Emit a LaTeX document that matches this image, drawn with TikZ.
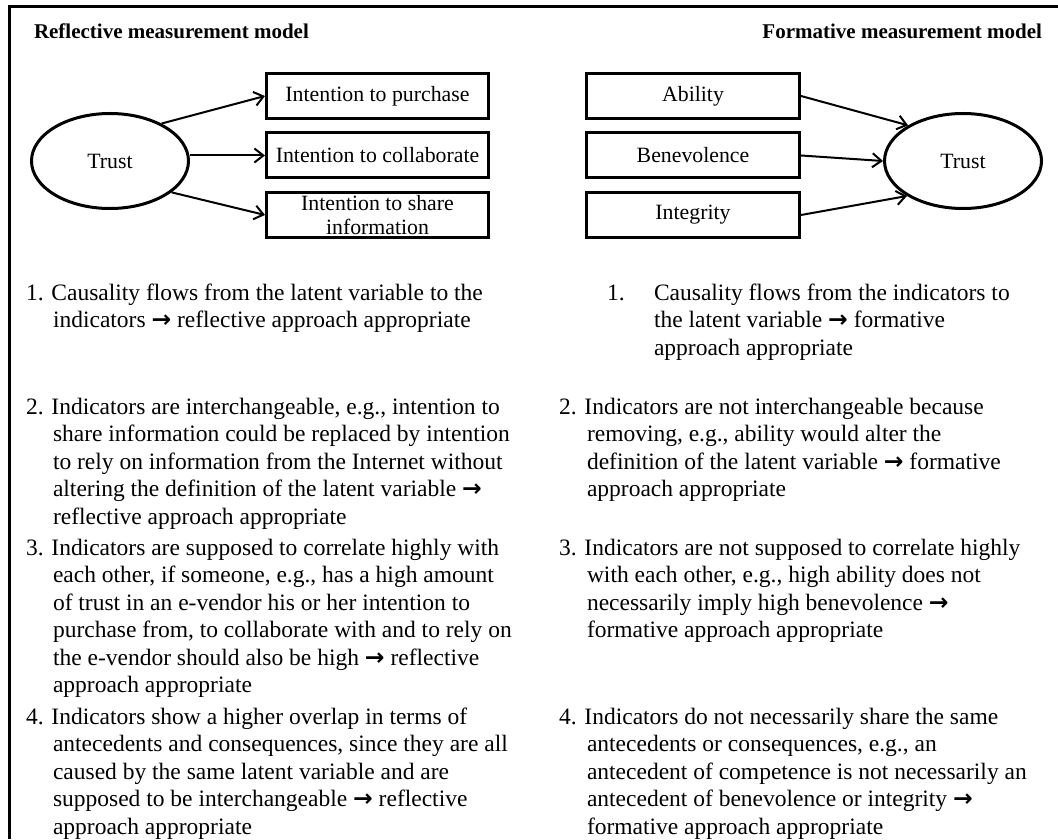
\documentclass[tikz,border=0pt]{standalone}
\usepackage{fontspec}
\setmainfont{Liberation Serif}
\newfontfamily\arrowfont{DejaVu Sans}
\usetikzlibrary{arrows.meta}
\usetikzlibrary{calc,shapes,shapes.geometric,positioning}
\newcommand{\contIndent}[1]{\hspace*{#1}}
\newcommand{\impliesArrow}{{\arrowfont\bfseries →}}

\begin{document}
\begin{tikzpicture}[x=0.5pt,y=-0.5pt,line width=1pt,node distance=5.75pt,
          indicator/.style={
            draw,
            rectangle,
            line width=1.5pt,
            align=center,
            minimum width=111pt,
            minimum height=22.5pt,
            inner xsep=2pt,
            inner ysep=0.5pt,
            font=\fontsize{10.9}{12}\selectfont},
          latent/.style={
            draw,
            ellipse,
            line width=1.5pt,
            minimum width=78.5pt,
            minimum height=47.5pt,
            inner sep=0pt,
            font=\fontsize{10.9}{12}\selectfont},
          header/.style={
            inner sep=0pt,
            font=\fontsize{10.5}{12}\selectfont\bfseries},
          itemText/.style={
            inner sep=0pt,
            anchor=base west,
            font=\fontsize{11.75}{13.75}\selectfont},
          causal/.style={-{Straight Barb[length=4.5pt,width=7pt]}}
          ]

          \useasboundingbox (0,0) rectangle (1058,839);
          \draw[line width=1.5pt] (9,839) -- (9,6.5) -- (1058,6.5);

          \node[header, anchor=base west] (reflTitle) at (33,39) {Reflective measurement model};
          \node[header, anchor=base east] (formTitle) at (1043,39) {Formative measurement model};

          \node[latent] (trustRefl) at (110,161) {Trust};
          \node[indicator, anchor=north west] (reflBox1) at (265,72) {Intention to purchase};
          \node[indicator, below=of reflBox1] (reflBox2) {Intention to collaborate};
          \node[indicator, below=of reflBox2] (reflBox3) {Intention to share\\information};

          \node[latent] (trustForm) at (963,161) {Trust};
          \node[indicator, minimum width=106.5pt, anchor=north west] (formBox1) at (585,72) {Ability};
          \node[indicator, minimum width=106.5pt, below=of formBox1] (formBox2) {Benevolence};
          \node[indicator, minimum width=106.5pt, below=of formBox2] (formBox3) {Integrity};

          \draw[causal] (trustRefl.36) -- (reflBox1.west);
          \draw[causal] (trustRefl.east |- reflBox2.west) -- (reflBox2.west);
          \draw[causal] (trustRefl.-27) -- (reflBox3.west);
          \draw[causal] (formBox1.east) -- (trustForm.147);
          \draw[causal] (formBox2.east) -- (trustForm.west);
          \draw[causal] (formBox3.east) -- (trustForm.212);

          \node[itemText] (reflItem1) at (25,300) {\begin{tabular}[t]{@{}l@{}}
            1. Causality flows from the latent variable to the\\
            \contIndent{13.5pt}indicators \impliesArrow{} reflective approach appropriate
          \end{tabular}};
          \node[itemText] (reflItem2) at (25,414) {\begin{tabular}[t]{@{}l@{}}
            2. Indicators are interchangeable, e.g., intention to\\
            \contIndent{13.5pt}share information could be replaced by intention\\
            \contIndent{13.5pt}to rely on information from the Internet without\\
            \contIndent{13.5pt}altering the definition of the latent variable \impliesArrow\\
            \contIndent{13.5pt}reflective approach appropriate
          \end{tabular}};
          \node[itemText] (reflItem3) at (25,555) {\begin{tabular}[t]{@{}l@{}}
            3. Indicators are supposed to correlate highly with\\
            \contIndent{13.5pt}each other, if someone, e.g., has a high amount\\
            \contIndent{13.5pt}of trust in an e-vendor his or her intention to\\
            \contIndent{13.5pt}purchase from, to collaborate with and to rely on\\
            \contIndent{13.5pt}the e-vendor should also be high \impliesArrow{} reflective\\
            \contIndent{13.5pt}approach appropriate
          \end{tabular}};
          \node[itemText] (reflItem4) at (25,724) {\begin{tabular}[t]{@{}l@{}}
            4. Indicators show a higher overlap in terms of\\
            \contIndent{13.5pt}antecedents and consequences, since they are all\\
            \contIndent{13.5pt}caused by the same latent variable and are\\
            \contIndent{13.5pt}supposed to be interchangeable \impliesArrow{} reflective\\
            \contIndent{13.5pt}approach appropriate
          \end{tabular}};

          \node[itemText] (formItem1) at (606,300) {\begin{tabular}[t]{@{}l@{}}
            \makebox[23.5pt][l]{1.}Causality flows from the indicators to\\
            \contIndent{23.5pt}the latent variable \impliesArrow{} formative\\
            \contIndent{23.5pt}approach appropriate
          \end{tabular}};
          \node[itemText] (formItem2) at (558,414) {\begin{tabular}[t]{@{}l@{}}
            2. Indicators are not interchangeable because\\
            \contIndent{14pt}removing, e.g., ability would alter the\\
            \contIndent{14pt}definition of the latent variable \impliesArrow{} formative\\
            \contIndent{14pt}approach appropriate
          \end{tabular}};
          \node[itemText] (formItem3) at (558,555) {\begin{tabular}[t]{@{}l@{}}
            3. Indicators are not supposed to correlate highly\\
            \contIndent{14pt}with each other, e.g., high ability does not\\
            \contIndent{14pt}necessarily imply high benevolence \impliesArrow\\
            \contIndent{14pt}formative approach appropriate
          \end{tabular}};
          \node[itemText] (formItem4) at (558,724) {\begin{tabular}[t]{@{}l@{}}
            4. Indicators do not necessarily share the same\\
            \contIndent{14pt}antecedents or consequences, e.g., an\\
            \contIndent{14pt}antecedent of competence is not necessarily an\\
            \contIndent{14pt}antecedent of benevolence or integrity \impliesArrow\\
            \contIndent{14pt}formative approach appropriate
          \end{tabular}};
        \end{tikzpicture}
\end{document}
